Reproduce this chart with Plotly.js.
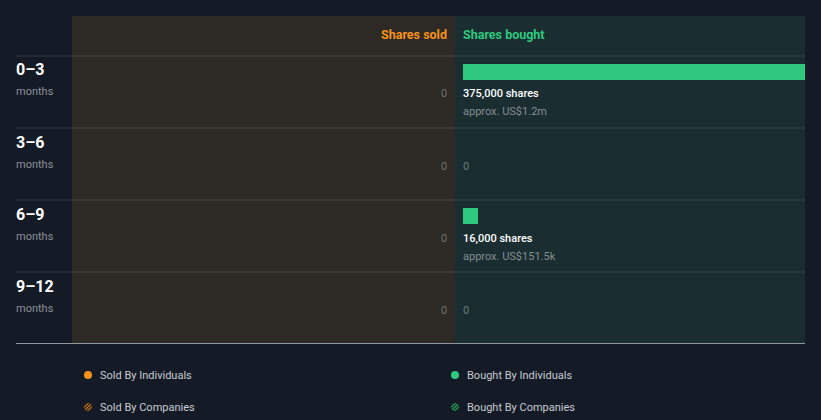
<!DOCTYPE html>
<html><head><meta charset="utf-8">
<script src="https://cdn.plot.ly/plotly-3.0.1.min.js"></script>
<style>html,body{margin:0;padding:0;background:#151b26;}#chart{width:821px;height:420px;}</style>
</head><body><div id="chart"></div>
<script>
// ---- data ----
const periods = ["0–3", "3–6", "6–9", "9–12"];
const periodUnit = "months";
const soldShares = [0, 0, 0, 0];
const boughtShares = [375000, 0, 16000, 0];
const boughtValue = ["US$1.2m", null, "US$151.5k", null];
const legendLabels = ["Sold By Individuals", "Bought By Individuals", "Sold By Companies", "Bought By Companies"];

// ---- styles ----
const W = 821, H = 420;
const BG = "#151b26", SOLD_BG = "#2d2924", BOUGHT_BG = "#1a2d30";
const ORANGE = "#f7931a", GREEN = "#2ec97f";
const px = v => v / W, py = v => 1 - v / H;
const FONT = "Roboto, 'Noto Sans', sans-serif";

const traces = [
  {type: "bar", orientation: "h", x: soldShares, y: periods, xaxis: "x", yaxis: "y",
   marker: {color: ORANGE}, width: 0.222, offset: -0.389, hoverinfo: "skip", showlegend: false},
  {type: "bar", orientation: "h", x: boughtShares, y: periods, xaxis: "x2", yaxis: "y",
   marker: {color: GREEN}, width: 0.222, offset: -0.389, hoverinfo: "skip", showlegend: false}
];

const maxV = Math.max(...boughtShares, ...soldShares);
const shapes = [
  {type: "rect", xref: "paper", yref: "paper", x0: px(72), x1: px(455), y0: py(343), y1: py(16), fillcolor: SOLD_BG, line: {width: 0}, layer: "below"},
  {type: "rect", xref: "paper", yref: "paper", x0: px(455), x1: px(805), y0: py(343), y1: py(16), fillcolor: BOUGHT_BG, line: {width: 0}, layer: "below"}
];
[56, 128, 200, 272].forEach(y => shapes.push({type: "line", xref: "paper", yref: "paper", x0: px(16), x1: px(805), y0: py(y), y1: py(y), line: {color: "rgba(255,255,255,0.13)", width: 1}, layer: "below"}));
shapes.push({type: "line", xref: "paper", yref: "paper", x0: px(16), x1: px(805), y0: py(343.5), y1: py(343.5), line: {color: "#8e979b", width: 1}});

const annotations = [
  {xref: "paper", yref: "paper", x: px(447), y: py(34), xshift: 2, xanchor: "right", yanchor: "middle", showarrow: false,
   text: "<b>Shares sold</b>", font: {family: FONT, size: 12.5, color: ORANGE}},
  {xref: "paper", yref: "paper", x: px(463), y: py(34), xshift: -2, xanchor: "left", yanchor: "middle", showarrow: false,
   text: "<b>Shares bought</b>", font: {family: FONT, size: 12.5, color: GREEN}}
];
const fmt = n => n.toLocaleString("en-US");
periods.forEach((p, i) => {
  annotations.push({xref: "paper", yref: "y", x: px(16), y: p, xshift: -2, yshift: 22, xanchor: "left", yanchor: "middle", showarrow: false,
    text: "<b>" + p + "</b>", font: {family: FONT, size: 16, color: "#ffffff"}});
  annotations.push({xref: "paper", yref: "y", x: px(16), y: p, xshift: -2, yshift: 0, xanchor: "left", yanchor: "middle", showarrow: false,
    text: periodUnit, font: {family: FONT, size: 11, color: "#8a9096"}});
  annotations.push({xref: "x", yref: "y", x: 0, y: p, xshift: 2, yshift: -2, xanchor: "right", yanchor: "middle", showarrow: false,
    text: fmt(soldShares[i]), font: {family: FONT, size: 11, color: "#6f7173"}});
  if (boughtShares[i] > 0) {
    annotations.push({xref: "x2", yref: "y", x: 0, y: p, xshift: -2, yshift: -2, xanchor: "left", yanchor: "middle", showarrow: false,
      text: fmt(boughtShares[i]) + " shares", font: {family: FONT, size: 11, color: "#ffffff", weight: 500}});
    annotations.push({xref: "x2", yref: "y", x: 0, y: p, xshift: -2, yshift: -20, xanchor: "left", yanchor: "middle", showarrow: false,
      text: "approx. " + boughtValue[i], font: {family: FONT, size: 11, color: "#848d92"}});
  } else {
    annotations.push({xref: "x2", yref: "y", x: 0, y: p, xshift: -2, yshift: -2, xanchor: "left", yanchor: "middle", showarrow: false,
      text: fmt(boughtShares[i]), font: {family: FONT, size: 11, color: "#6f7a7c"}});
  }
});

// legend (custom)
const legPos = [[88, 375], [455, 375], [88, 407], [455, 407]];
const legCol = [ORANGE, GREEN, ORANGE, GREEN];
const legDark = ["", "", "#3a2a17", "#163a2a"];
legendLabels.forEach((lab, i) => {
  const [cx, cy] = legPos[i];
  const hatched = i >= 2;
  shapes.push({type: "circle", xref: "paper", yref: "paper", x0: px(cx - 4), x1: px(cx + 4), y0: py(cy + 4), y1: py(cy - 4),
    fillcolor: hatched ? legDark[i] : legCol[i], line: {width: 0}});
  if (hatched) {
    [[-2.8, 2.8, 2.8, -2.8], [-0.5, 3.9, 3.9, -0.5], [-3.9, 0.5, 0.5, -3.9]].forEach(s => {
      shapes.push({type: "line", xref: "paper", yref: "paper", x0: px(cx + s[0]), y0: py(cy + s[1]), x1: px(cx + s[2]), y1: py(cy + s[3]),
        line: {color: legCol[i], width: 1}});
    });
  }
  annotations.push({xref: "paper", yref: "paper", x: px(cx + 12), y: py(cy), xshift: -2, xanchor: "left", yanchor: "middle", showarrow: false,
    text: lab, font: {family: FONT, size: 11, color: "#c7cbd1"}});
});

const layout = {
  width: W, height: H, margin: {l: 0, r: 0, t: 0, b: 0},
  paper_bgcolor: BG, plot_bgcolor: "rgba(0,0,0,0)", showlegend: false,
  xaxis: {domain: [px(72), px(447)], range: [maxV, 0], visible: false, fixedrange: true, anchor: "y"},
  xaxis2: {domain: [px(463), px(805)], range: [0, maxV], visible: false, fixedrange: true, anchor: "y"},
  yaxis: {domain: [py(344), py(56)], type: "category", categoryarray: periods, range: [3.5, -0.5], visible: false, fixedrange: true},
  shapes: shapes, annotations: annotations, bargap: 0
};
Plotly.newPlot("chart", traces, layout, {displayModeBar: false, staticPlot: true});
</script></body></html>
